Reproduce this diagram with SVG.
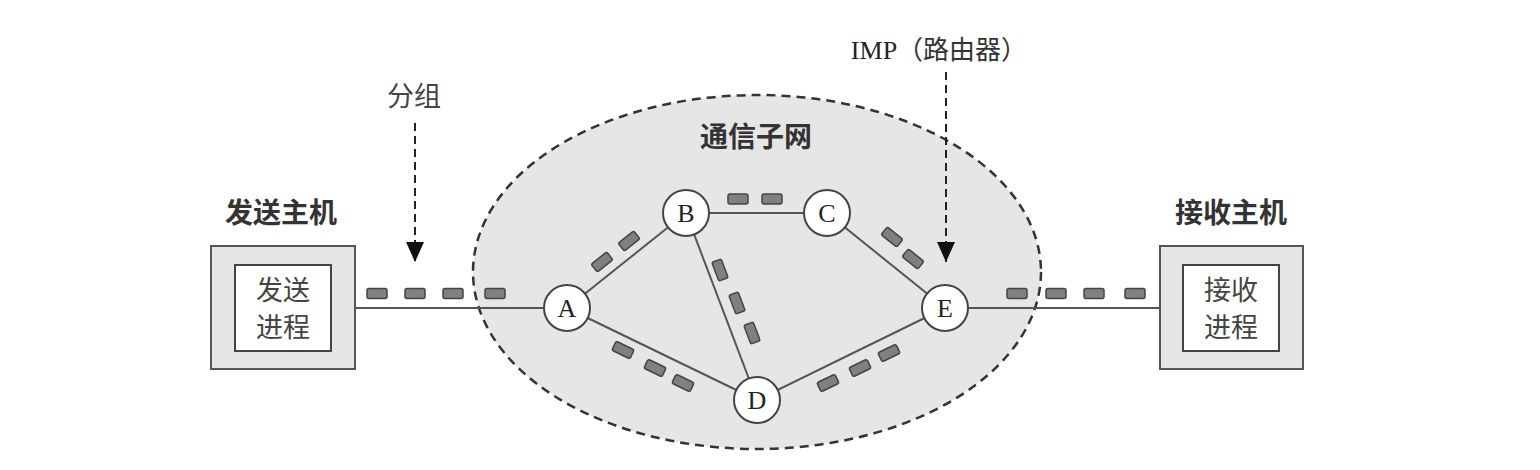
<svg xmlns="http://www.w3.org/2000/svg" width="1540" height="470" viewBox="0 0 1540 470">
<defs>
<style>
.cjk{font-family:"Noto Sans CJK SC","Noto Sans CJK JP",sans-serif;fill:#333}
.title{font-size:28px;font-weight:bold}
.lbl{font-size:27px;fill:#444}
.ser{font-family:"Liberation Serif","Noto Sans CJK SC",serif;fill:#222}
.link{stroke:#555;stroke-width:2;fill:none}
.pkt{fill:#808080;stroke:#444;stroke-width:1.5}
.node circle{fill:#fff;stroke:#444;stroke-width:2}
.node text{font-family:"Liberation Serif",serif;font-size:26px;fill:#222;text-anchor:middle}
.outer{fill:#e6e6e6;stroke:#555;stroke-width:2}
.inner{fill:#fff;stroke:#444;stroke-width:2}
.ptr{stroke:#222;stroke-width:2;stroke-dasharray:8 5;fill:none}
</style>
<marker id="ah" viewBox="0 0 20 18" refX="20" refY="9" markerWidth="20" markerHeight="18" markerUnits="userSpaceOnUse" orient="auto">
<path d="M0,0 L20,9 L0,18 Z" fill="#111"/>
</marker>
<rect id="p" x="-10" y="-5" width="20" height="10" rx="2"/>
</defs>
<rect width="1540" height="470" fill="#fff"/>

<g id="subnet">
<ellipse cx="757" cy="272" rx="284" ry="177" fill="#e6e6e6" stroke="#333" stroke-width="2.5" stroke-dasharray="9 6"/>
<text class="cjk title" x="756" y="147" text-anchor="middle">通信子网</text>
</g>

<g id="connectors">
<line class="link" x1="331" y1="308" x2="544" y2="308"/>
<line class="link" x1="567" y1="308" x2="686" y2="213"/>
<line class="link" x1="567" y1="308" x2="757" y2="400"/>
<line class="link" x1="686" y1="213" x2="757" y2="400"/>
<line class="link" x1="686" y1="213" x2="827" y2="213"/>
<line class="link" x1="827" y1="213" x2="945" y2="308"/>
<line class="link" x1="757" y1="400" x2="945" y2="308"/>
<line class="link" x1="968" y1="308" x2="1183" y2="308"/>
<line class="ptr" x1="415" y1="123" x2="415" y2="262" marker-end="url(#ah)"/>
<line class="ptr" x1="946" y1="72" x2="946" y2="262" marker-end="url(#ah)"/>
</g>

<g id="packets" class="pkt">
<use href="#p" x="377" y="293.5"/>
<use href="#p" x="415" y="293.5"/>
<use href="#p" x="453" y="293.5"/>
<use href="#p" x="495" y="293.5"/>
<use href="#p" transform="translate(602,262) rotate(-38.6)"/>
<use href="#p" transform="translate(629,241) rotate(-38.6)"/>
<use href="#p" x="738" y="199"/>
<use href="#p" x="772" y="199"/>
<use href="#p" transform="translate(720,270) rotate(69.2)"/>
<use href="#p" transform="translate(737,303) rotate(69.2)"/>
<use href="#p" transform="translate(752,333) rotate(69.2)"/>
<use href="#p" transform="translate(892,237) rotate(38.8)"/>
<use href="#p" transform="translate(913,259) rotate(38.8)"/>
<use href="#p" transform="translate(623,350) rotate(25.8)"/>
<use href="#p" transform="translate(655,368) rotate(25.8)"/>
<use href="#p" transform="translate(683,383) rotate(25.8)"/>
<use href="#p" transform="translate(828,383) rotate(-26)"/>
<use href="#p" transform="translate(860,368) rotate(-26)"/>
<use href="#p" transform="translate(889,353) rotate(-26)"/>
<use href="#p" x="1017" y="293.5"/>
<use href="#p" x="1056" y="293.5"/>
<use href="#p" x="1094" y="293.5"/>
<use href="#p" x="1135" y="293.5"/>
</g>

<g id="sender">
<text class="cjk title" x="281" y="223" text-anchor="middle">发送主机</text>
<rect class="outer" x="211" y="246" width="144" height="123"/>
<rect class="inner" x="235" y="265" width="96" height="86"/>
<text class="cjk lbl" x="283" y="300" text-anchor="middle">发送</text>
<text class="cjk lbl" x="283" y="337" text-anchor="middle">进程</text>
</g>

<g id="receiver">
<text class="cjk title" x="1231" y="223" text-anchor="middle">接收主机</text>
<rect class="outer" x="1160" y="246" width="143" height="123"/>
<rect class="inner" x="1183" y="265" width="96" height="86"/>
<text class="cjk lbl" x="1231" y="300" text-anchor="middle">接收</text>
<text class="cjk lbl" x="1231" y="337" text-anchor="middle">进程</text>
</g>

<g id="nodeA" class="node"><circle cx="567" cy="308" r="23"/><text x="567" y="317">A</text></g>
<g id="nodeB" class="node"><circle cx="686" cy="213" r="23"/><text x="686" y="222">B</text></g>
<g id="nodeC" class="node"><circle cx="827" cy="213" r="23"/><text x="827" y="222">C</text></g>
<g id="nodeD" class="node"><circle cx="757" cy="400" r="23"/><text x="757" y="409">D</text></g>
<g id="nodeE" class="node"><circle cx="945" cy="308" r="23"/><text x="945" y="317">E</text></g>

<g id="label-packet">
<text class="cjk lbl" x="414" y="106" text-anchor="middle">分组</text>
</g>
<g id="label-imp">
<text x="939" y="59" text-anchor="middle" font-size="26"><tspan class="ser">IMP</tspan><tspan class="cjk">（路由器）</tspan></text>
</g>
</svg>
